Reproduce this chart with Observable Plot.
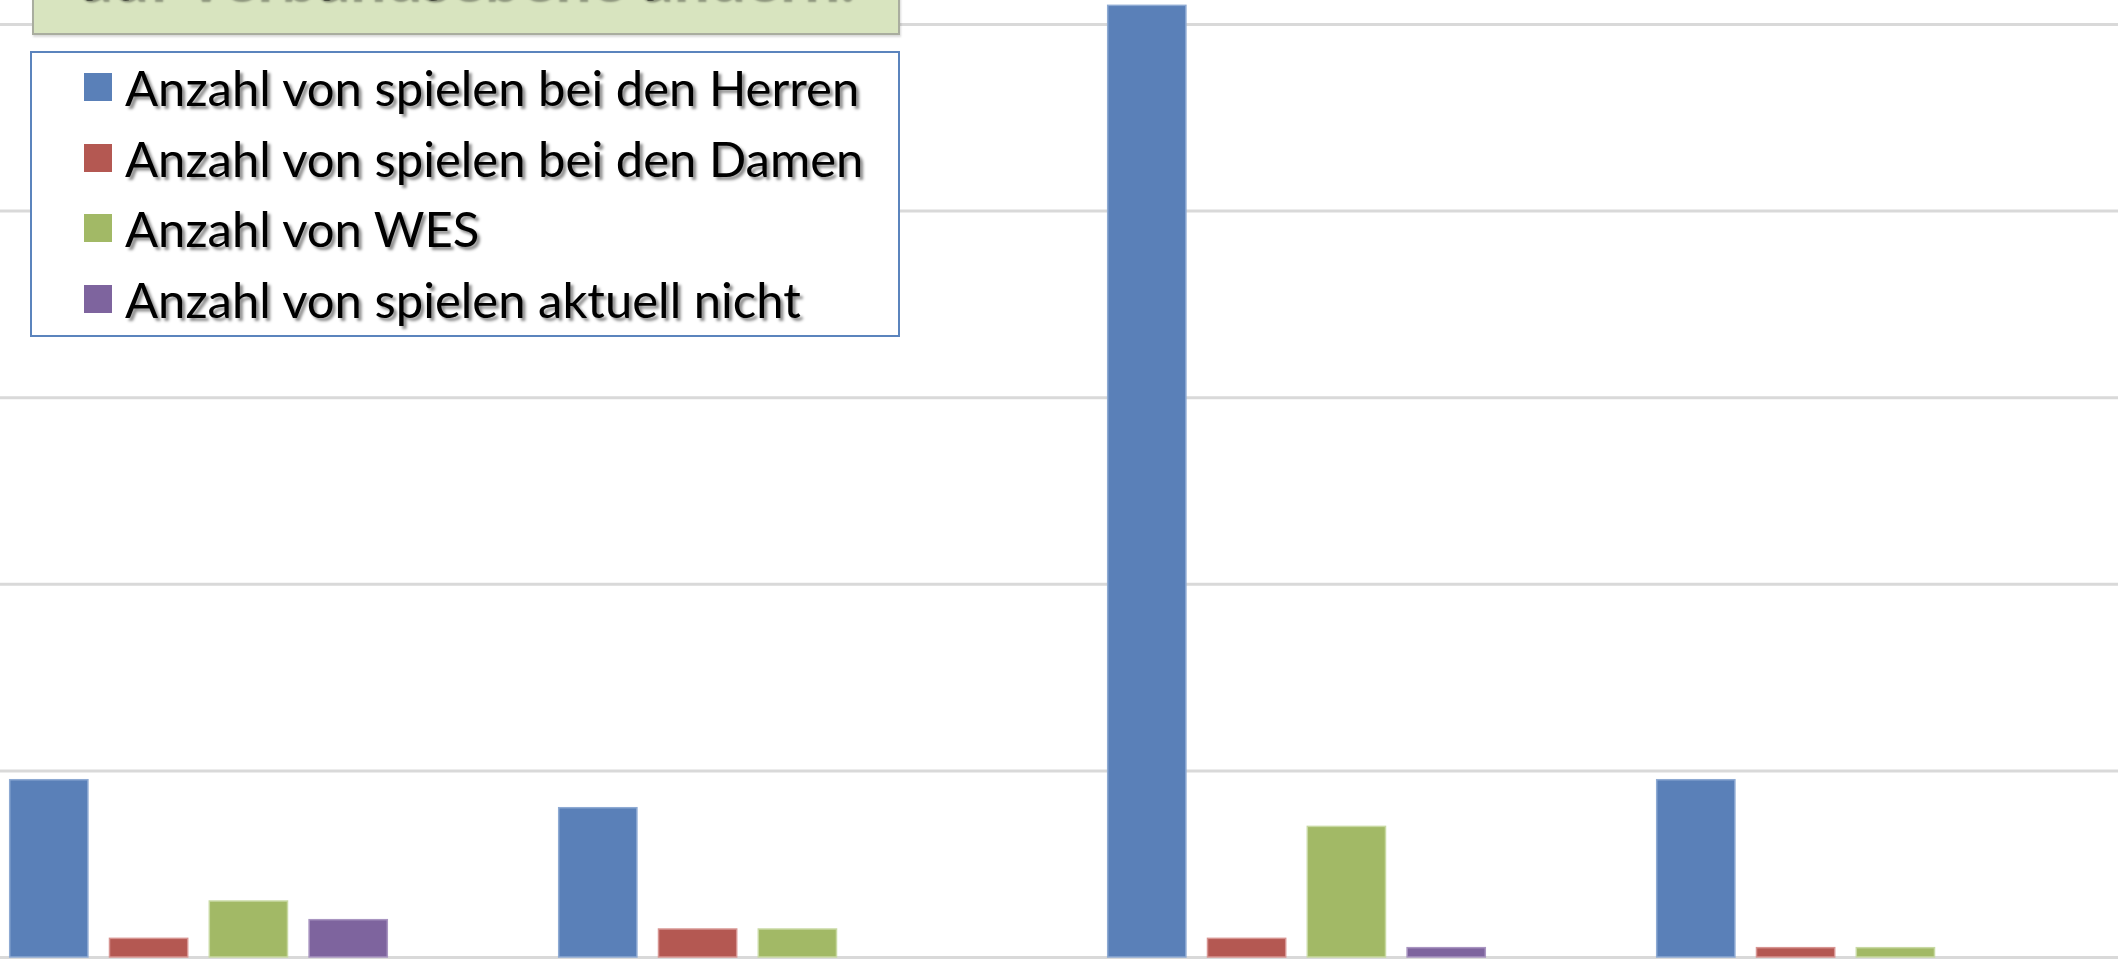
<!DOCTYPE html>
<html>
<head>
<meta charset="utf-8">
<script src="https://cdn.jsdelivr.net/npm/d3@7"></script>
<script src="https://cdn.jsdelivr.net/npm/@observablehq/plot@0.6"></script>
<style>
  html, body { margin: 0; padding: 0; background: #fff; }
  #wrap { position: relative; width: 2126px; height: 965px; overflow: hidden; }
  #title {
    position: absolute; left: 32px; top: -40px; width: 868px; height: 75px;
    background: #d8e4bf; border: 2px solid #a9ad9f; box-shadow: 1px 2px 2px rgba(0,0,0,0.15);
    font-family: Lato, "Open Sans", sans-serif; font-weight: 700; font-size: 64px;
    color: #000; text-align: center; line-height: 1; box-sizing: border-box;
  }
  #title span { position: absolute; left: 0; right: 0; bottom: 25px; text-shadow: 2px 2px 2px rgba(0,0,0,0.35); white-space: nowrap; }
  #legend {
    position: absolute; left: 30px; top: 51px; width: 870px; height: 286px;
    border: 2px solid #5b84bd; background: #fff; box-sizing: border-box;
    font-family: Lato, "Open Sans", sans-serif; font-size: 49px; color: #000;
  }
  .row { position: absolute; left: 52px; height: 40px; display: flex; align-items: center; }
  .sw { width: 28px; height: 28px; margin-right: 13px; flex: none; }
  .lbl { text-shadow: 3px 3px 3px rgba(0,0,0,0.45); white-space: nowrap; }
</style>
</head>
<body>
<div id="wrap">
  <div id="chart"></div>
  <div id="title"><span></span></div>
  <div id="legend"></div>
</div>
<script>
// ---- data ----
const categories = ["Antwort 1", "Antwort 2", "Antwort 3", "Antwort 4"];
const seriesNames = [
  "Anzahl von spielen bei den Herren",
  "Anzahl von spielen bei den Damen",
  "Anzahl von WES",
  "Anzahl von spielen aktuell nicht"
];
const herren = [19, 16, 102, 19];
const damen = [2, 3, 2, 1];
const wes = [6, 3, 14, 1];
const aktuellNicht = [4, 0, 1, 0];
const yTicks = [0, 20, 40, 60, 80, 100];
const titleText = "auf Verbandsebene ändern.";

const colors = ["#5a80b8", "#b45852", "#a2b966", "#7e649e"];
const strokes = ["#8eaad3", "#d79592", "#c8d9a3", "#a995c1"];
const seriesValues = [herren, damen, wes, aktuellNicht];

// ---- layout constants (pixel styling) ----
const bandStart = -77.4, bandEnd = 2120.6;
const bandwidth = (bandEnd - bandStart) / categories.length;
const groupOffset = 85.7, barPitch = 99.8, barWidth = 78.7;

const marks = [
  Plot.ruleY(yTicks, {stroke: "#d9d9d9", strokeWidth: 3})
];
seriesValues.forEach((vals, i) => {
  const data = categories.map((c, j) => ({cat: c, value: vals[j]})).filter(d => d.value > 0);
  const left = groupOffset + i * barPitch;
  marks.push(Plot.barY(data, {
    x: "cat", y: "value",
    fill: colors[i], stroke: strokes[i], strokeWidth: 1.5,
    insetLeft: left, insetRight: bandwidth - left - barWidth
  }));
});

const chart = Plot.plot({
  width: 2126,
  height: 965,
  marginLeft: 0, marginRight: 8, marginTop: 24, marginBottom: 8,
  x: {type: "band", domain: categories, range: [bandStart, bandEnd], padding: 0, axis: null},
  y: {domain: [0, 100], range: [957, 24], axis: null},
  marks
});
document.getElementById("chart").appendChild(chart);

document.querySelector("#title span").textContent = titleText;

const legend = document.getElementById("legend");
seriesNames.forEach((name, i) => {
  const row = document.createElement("div");
  row.className = "row";
  row.style.top = (14 + i * 70.5) + "px";
  const sw = document.createElement("div");
  sw.className = "sw";
  sw.style.background = colors[i];
  const lbl = document.createElement("div");
  lbl.className = "lbl";
  lbl.textContent = name;
  row.appendChild(sw);
  row.appendChild(lbl);
  legend.appendChild(row);
});
</script>
</body>
</html>
